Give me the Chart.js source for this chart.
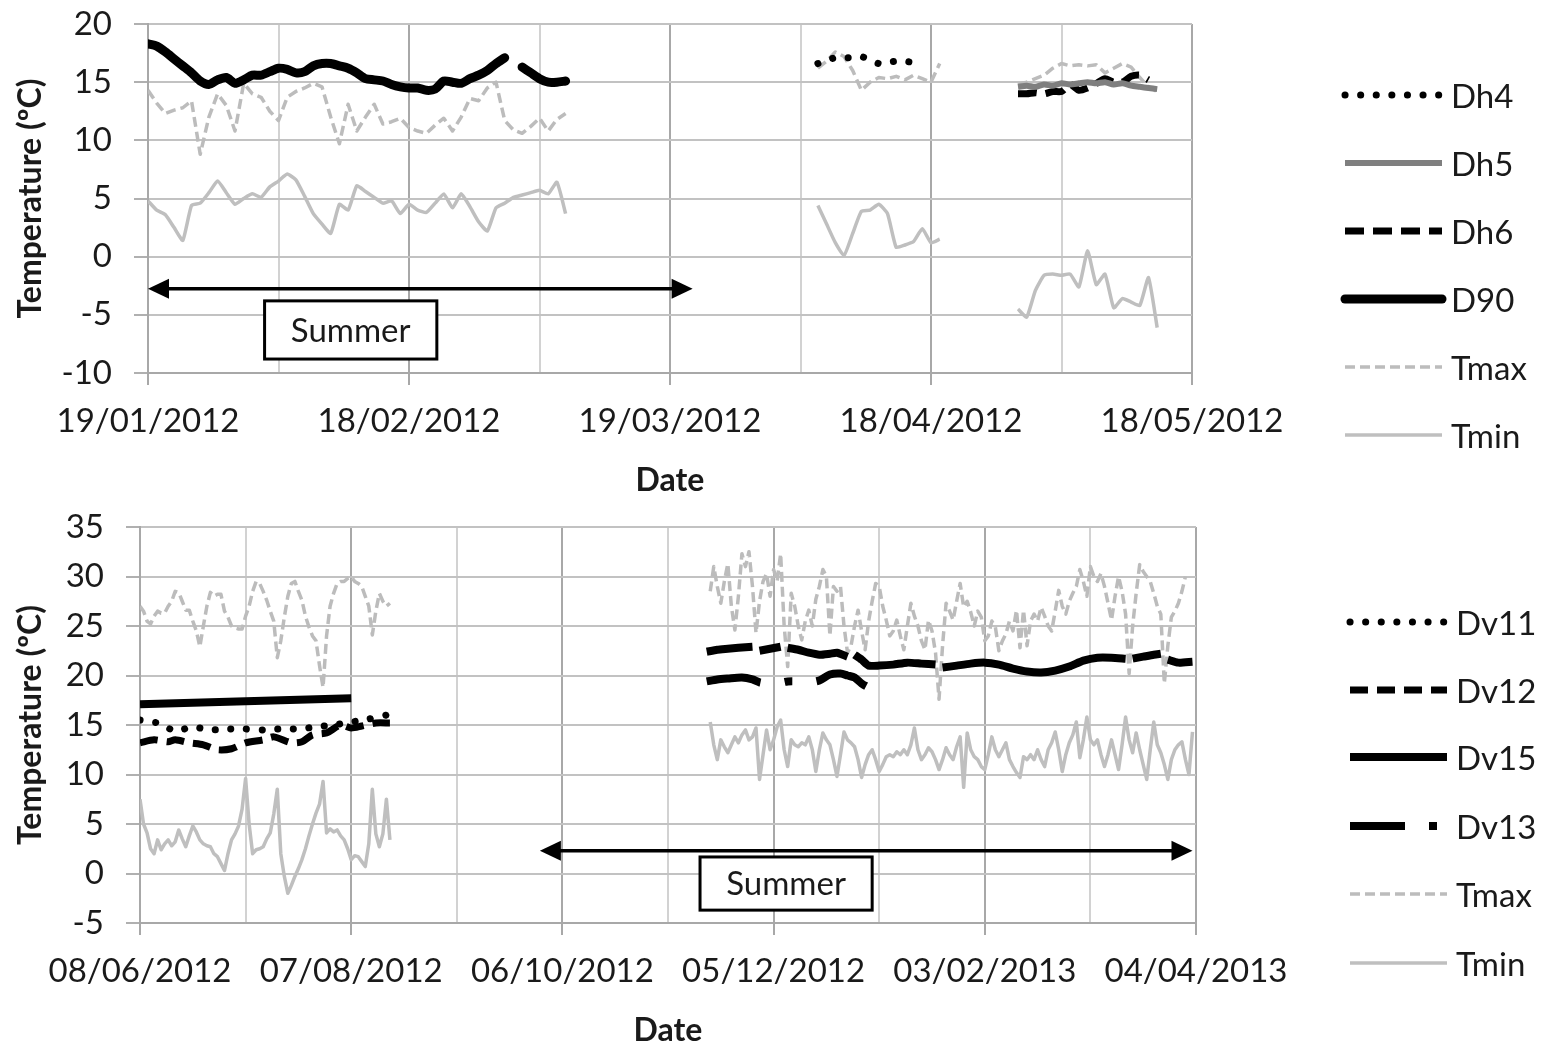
<!DOCTYPE html>
<html>
<head>
<meta charset="utf-8">
<script src="https://cdn.jsdelivr.net/npm/chart.js@4.4.0/dist/chart.umd.min.js"></script>
<style>
html, body { margin: 0; padding: 0; background: #fff; overflow: hidden; }
#wrap { position: relative; width: 1541px; height: 1047px; }
#topBox { position: absolute; left: 0; top: 0; width: 1300px; height: 500px; }
#botBox { position: absolute; left: 0; top: 490px; width: 1300px; height: 557px; }
#legend { position: absolute; left: 0; top: 0; }
</style>
</head>
<body>
<div id="wrap">
  <div id="topBox"><canvas id="topChart" width="1300" height="500"></canvas></div>
  <div id="botBox"><canvas id="botChart" width="1300" height="557"></canvas></div>
  <svg id="legend" width="1541" height="1047"></svg>
</div>
<script>
// ---- top panel, day 0 = 19/01/2012 ----
var topTicks = ['19/01/2012', '18/02/2012', '19/03/2012', '18/04/2012', '18/05/2012'];

// daily series, each segment starts at the given day
var d90A = [18.3, 18.1, 17.6, 17.0, 16.4, 15.8, 15.1, 14.8, 15.2, 15.4,
            14.9, 15.2, 15.6, 15.6, 15.9, 16.2, 16.1, 15.8, 15.9, 16.4,
            16.6, 16.6, 16.4, 16.2, 15.8, 15.3, 15.2, 15.1, 14.8, 14.6,
            14.5, 14.5, 14.3, 14.4, 15.1, 15.0, 14.9, 15.3, 15.6, 16.0,
            16.6, 17.1];                         // from day 0
var d90B = [16.3, 15.8, 15.3, 15.0, 15.0, 15.1]; // from day 43
var dh4 = [16.6, 16.9, 17.1, 17.1, 17.1, 17.2, 16.9, 16.6, 16.7, 16.8, 16.8, 16.7, 16.9]; // from day 77
var dh5 = [14.6, 14.7, 14.6, 14.8, 14.7, 14.9, 14.8, 14.9, 15.0, 14.9, 15.0, 14.8, 14.9, 14.7, 14.6, 14.5, 14.4]; // from day 100
var dh6 = [14.0, 14.0, 14.1, 14.0, 14.2, 14.2, 14.8, 14.3, 14.5, 14.9, 15.3, 15.0, 15.0, 15.5, 15.6, 15.2]; // from day 100

var tmaxTopA = [14.3, 13.2, 12.3, 12.6, 12.8, 13.4, 8.8, 12.0, 14.0, 13.0,
                10.8, 14.9, 14.0, 13.7, 12.5, 11.7, 13.7, 14.2, 14.5, 14.9,
                14.6, 12.0, 9.7, 13.1, 10.8, 12.0, 13.1, 11.4, 11.6, 11.9,
                11.1, 10.8, 10.6, 11.3, 11.9, 10.8, 12.0, 13.6, 13.4, 14.5,
                15.0, 11.7, 10.9, 10.6, 11.2, 11.9, 10.8, 11.8, 12.3];  // from day 0
var tmaxTopB = [16.2, 16.8, 17.6, 17.2, 16.0, 14.3, 15.0, 15.4, 15.3, 15.5, 15.2, 15.6, 15.3, 15.0, 16.6]; // from day 77
var tmaxTopC = [14.8, 15.0, 15.3, 15.6, 16.2, 16.6, 16.4, 16.5, 16.4, 16.5, 15.8, 16.2, 16.6, 16.3, 15.4, 14.6, 14.2]; // from day 100

var tminTopA = [4.8, 4.0, 3.6, 2.5, 1.4, 4.4, 4.6, 5.5, 6.5, 5.5,
                4.5, 5.0, 5.4, 5.1, 6.0, 6.5, 7.1, 6.6, 5.2, 3.7,
                2.8, 2.0, 4.5, 4.0, 6.1, 5.6, 5.1, 4.6, 4.8, 3.7,
                4.5, 4.0, 3.8, 4.6, 5.4, 4.2, 5.4, 4.3, 3.0, 2.2,
                4.2, 4.6, 5.1, 5.3, 5.5, 5.7, 5.4, 6.4, 3.7];   // from day 0
var tminTopB = [4.4, 2.8, 1.2, 0.1, 2.0, 3.9, 4.0, 4.5, 3.7, 0.8, 1.0, 1.3, 2.4, 1.2, 1.5]; // from day 77
var tminTopC = [-4.5, -5.2, -2.9, -1.6, -1.5, -1.6, -1.5, -2.6, 0.5, -2.4, -1.5, -4.4, -3.6, -3.9, -4.2, -1.8, -6.1]; // from day 100

// ---- bottom panel, day 0 = 08/06/2012 ----
var botTicks = ['08/06/2012', '07/08/2012', '06/10/2012', '05/12/2012', '03/02/2013', '04/04/2013'];

var dv11Days = [0, 5, 10, 15, 20, 25, 30, 35, 40, 45, 50, 55, 60, 65, 70];
var dv11Temp = [15.5, 15.2, 14.4, 14.8, 14.5, 14.6, 14.6, 14.5, 14.6, 14.6, 14.8, 15.0, 15.3, 15.6, 16.0];
var dv12Days = [0, 4, 8, 10, 14, 18, 22, 26, 30, 35, 38, 43, 46, 49, 53, 57, 60, 63, 67, 71];
var dv12Temp = [13.2, 13.5, 13.3, 13.5, 13.2, 13.0, 12.5, 12.6, 13.2, 13.5, 13.8, 13.2, 13.3, 14.0, 14.2, 15.0, 14.7, 14.9, 15.2, 15.2];
var dv15Days = [0, 60, 61,
                161, 164, 167, 170, 174, 175, 176, 179, 182, 183, 184, 187, 190, 193, 196, 198, 201, 202,
                203, 205, 207, 210, 214, 218, 222, 226, 227, 228, 232, 236, 240, 244, 248, 252, 256, 260,
                264, 268, 272, 276, 280, 281, 282, 285, 288, 290, 291, 292, 295, 299];
var dv15Temp = [17.1, 17.7, null,
                22.4, 22.6, 22.7, 22.8, 22.9, null, 22.5, 22.7, 22.9, null, 22.8, 22.6, 22.3, 22.1, 22.2, 22.3, 21.9, null,
                22.1, 21.6, 21.0, 21.0, 21.1, 21.3, 21.2, 21.1, null, 20.8, 21.0, 21.2, 21.3, 21.1, 20.7, 20.4, 20.3, 20.5,
                20.9, 21.5, 21.8, 21.8, 21.7, null, 21.7, 21.9, 22.1, 22.2, null, 21.6, 21.3, 21.4];
var dv13Days = [161, 164, 167, 171, 174, 176, 178, 181, 184, 187, 190, 193, 196, 199, 201, 203, 205, 207, 209];
var dv13Temp = [19.4, 19.6, 19.7, 19.8, 19.6, 19.3, 19.2, 19.2, 19.4, 19.4, 19.3, 19.5, 20.1, 20.2, 20.0, 19.8, 19.2, 18.8, 18.6];

var tmaxBotA = [27.0, 26.5, 25.5, 25.2, 26.0, 26.5, 26.3, 26.3, 27.0, 27.5,
                28.5, 28.4, 27.5, 26.6, 26.6, 25.5, 24.5, 22.9, 25.0, 27.0,
                28.4, 28.0, 28.2, 28.2, 26.5, 25.9, 25.0, 24.8, 24.7, 24.7,
                26.0, 27.0, 28.5, 29.5, 29.3, 28.5, 27.6, 26.5, 25.5, 21.8,
                23.5, 25.9, 28.0, 29.3, 29.5, 28.5, 27.6, 26.0, 24.9, 24.0,
                23.5, 21.0, 18.8, 24.0, 27.0, 28.3, 29.3, 29.5, 29.5, 29.8,
                30.0, 29.5, 29.3, 29.0, 28.0, 27.0, 24.1, 26.5, 28.3, 27.5,
                27.0, 27.3];  // from day 0
var tmaxBotB = [28.5, 31.0, 29.0, 27.3, 29.5, 31.3, 27.0, 24.6, 28.0, 32.3,
                31.0, 32.5, 29.0, 24.3, 27.5, 29.5, 30.3, 28.0, 30.7, 29.5,
                32.3, 25.0, 20.9, 28.3, 27.0, 25.0, 23.6, 25.5, 26.6, 25.0,
                27.7, 29.0, 30.7, 30.0, 24.0, 29.0, 28.5, 29.0, 25.0, 22.3,
                23.0, 25.0, 26.6, 24.5, 22.6, 25.5, 27.5, 29.3, 29.0, 27.0,
                25.6, 24.0, 24.5, 25.6, 24.0, 22.6, 25.0, 27.3, 26.0, 25.0,
                23.5, 22.6, 25.6, 24.5, 22.3, 17.6, 23.0, 27.3, 26.5, 25.6,
                27.5, 29.3, 26.9, 27.5, 26.4, 25.0, 26.5, 25.9, 23.5, 24.0,
                25.5, 24.9, 22.5, 23.5, 24.2, 25.5, 24.5, 26.6, 22.8, 26.6,
                23.0, 25.5, 26.2, 25.5, 26.9, 26.0, 25.0, 24.5, 26.5, 28.6,
                27.0, 26.2, 27.5, 28.3, 29.0, 30.7, 29.5, 28.0, 31.0, 30.0,
                29.5, 30.3, 29.0, 27.3, 25.6, 28.0, 30.0, 28.5, 26.2, 20.2,
                25.0, 28.3, 31.2, 30.5, 30.0, 29.5, 28.3, 27.0, 26.2, 19.2,
                23.0, 25.9, 26.5, 27.3, 28.5, 30.0];  // from day 162

var tminBotA = [7.5, 5.0, 4.1, 2.5, 2.0, 3.4, 2.4, 3.0, 3.4, 2.8,
                3.2, 4.4, 3.5, 2.7, 3.8, 4.8, 4.2, 3.4, 3.0, 2.8,
                2.7, 2.0, 1.7, 1.0, 0.3, 2.0, 3.4, 4.0, 4.8, 6.5,
                9.6, 5.0, 2.0, 2.4, 2.5, 2.7, 3.5, 4.1, 6.0, 8.5,
                2.0, -0.3, -2.0, -1.2, -0.3, 0.5, 1.4, 2.5, 3.8, 5.0,
                6.1, 7.0, 9.3, 4.1, 4.5, 4.2, 4.4, 3.8, 3.4, 2.5,
                1.4, 1.8, 1.7, 1.2, 0.7, 3.0, 8.5, 4.0, 2.7, 4.0,
                7.5, 3.4];  // from day 0
var tminBotB = [15.3, 13.0, 11.5, 13.5, 12.8, 12.2, 13.0, 13.8, 13.2, 14.0,
                14.5, 13.5, 13.8, 14.7, 9.5, 12.0, 14.5, 12.5, 13.5, 14.8,
                15.5, 12.5, 10.8, 13.5, 13.0, 12.8, 13.2, 13.0, 13.8, 12.5,
                10.3, 12.5, 14.2, 13.5, 13.0, 11.5, 9.8, 12.0, 14.3, 13.5,
                13.2, 12.8, 11.5, 9.7, 11.0, 12.0, 12.5, 11.5, 10.3, 11.0,
                11.8, 12.0, 11.8, 12.3, 12.0, 12.5, 12.0, 13.0, 14.7, 12.5,
                11.5, 12.0, 12.7, 12.3, 11.5, 10.5, 11.5, 12.7, 12.0, 11.5,
                12.8, 13.8, 8.7, 14.2, 12.5, 11.8, 11.5, 10.8, 10.5, 12.0,
                13.8, 12.5, 11.8, 12.5, 13.2, 11.5, 10.8, 10.2, 9.7, 11.8,
                11.5, 12.0, 11.5, 12.5, 11.5, 10.8, 12.5, 13.2, 14.3, 12.5,
                10.3, 12.0, 13.2, 14.0, 15.3, 11.7, 13.5, 15.8, 13.5, 13.0,
                13.5, 12.0, 10.8, 12.0, 13.5, 12.0, 10.5, 13.0, 15.8, 13.5,
                12.2, 14.2, 12.5, 11.0, 9.5, 12.5, 15.3, 13.0, 12.2, 11.0,
                9.5, 11.5, 12.5, 13.0, 13.3, 11.5, 10.0, 14.3];  // from day 162

// helpers
function daily(start, values) {
    return values.map(function (v, i) { return { x: start + i, y: v }; });
}
function pairs(days, values) {
    return days.map(function (d, i) { return { x: d, y: values[i] }; });
}
// join segments with a null point so the line breaks between them
function joinSegs() {
    var out = [];
    for (var i = 0; i < arguments.length; i++) {
        if (i > 0) out.push({ x: out[out.length - 1].x + 0.5, y: null });
        out = out.concat(arguments[i]);
    }
    return out;
}

var TMAX_COLOR = '#bcbcbc';
var TMIN_COLOR = '#bfbfbf';

function line(label, data, color, width, dash, extra) {
    var ds = {
        label: label, data: data, borderColor: color, backgroundColor: color,
        borderWidth: width, borderDash: dash || [], pointRadius: 0,
        fill: false, spanGaps: false, tension: 0.25, borderJoinStyle: 'round'
    };
    for (var k in extra) ds[k] = extra[k];
    return ds;
}
var dotted = { borderCapStyle: 'round', tension: 0.2 };

// Summer arrow + box
var summerPlugin = {
    id: 'summer',
    afterDatasetsDraw: function (chart, args, o) {
        var xs = chart.scales.x, ys = chart.scales.y, ctx = chart.ctx;
        var x1 = xs.getPixelForValue(o.from), x2 = xs.getPixelForValue(o.to);
        var y = ys.getPixelForValue(o.at);
        var hl = 21, hw = 10;
        ctx.save();
        ctx.strokeStyle = '#000';
        ctx.fillStyle = '#000';
        ctx.lineWidth = 3.5;
        ctx.beginPath(); ctx.moveTo(x1 + hl - 2, y); ctx.lineTo(x2 - hl + 2, y); ctx.stroke();
        ctx.beginPath(); ctx.moveTo(x1, y); ctx.lineTo(x1 + hl, y - hw); ctx.lineTo(x1 + hl, y + hw); ctx.closePath(); ctx.fill();
        ctx.beginPath(); ctx.moveTo(x2, y); ctx.lineTo(x2 - hl, y - hw); ctx.lineTo(x2 - hl, y + hw); ctx.closePath(); ctx.fill();
        var bx1 = xs.getPixelForValue(o.box[0]), bx2 = xs.getPixelForValue(o.box[1]);
        var by1 = ys.getPixelForValue(o.box[2]), by2 = ys.getPixelForValue(o.box[3]);
        ctx.fillStyle = '#fff';
        ctx.fillRect(bx1, by1, bx2 - bx1, by2 - by1);
        ctx.lineWidth = 3;
        ctx.strokeRect(bx1, by1, bx2 - bx1, by2 - by1);
        ctx.fillStyle = '#1a1a1a';
        ctx.font = '33px Lato';
        ctx.textAlign = 'center';
        ctx.textBaseline = 'middle';
        ctx.fillText('Summer', (bx1 + bx2) / 2, (by1 + by2) / 2 + 1);
        ctx.restore();
    }
};

Chart.defaults.font.family = 'Lato, sans-serif';
Chart.defaults.font.size = 33;
Chart.defaults.color = '#1a1a1a';

function makeOptions(p) {
    return {
        responsive: false,
        animation: false,
        layout: { padding: { left: 0, top: p.top, right: p.right, bottom: 0 } },
        plugins: { legend: { display: false }, tooltip: { enabled: false }, summer: p.summer },
        scales: {
            x: {
                type: 'linear', min: 0, max: p.xMax,
                // fixed height; the side padding is already reserved by layout.padding
                afterFit: function (s) { s.height = p.xHeight; s.paddingLeft = 0; s.paddingRight = 0; },
                ticks: {
                    stepSize: p.step, autoSkip: false, maxRotation: 0, minRotation: 0, padding: 17,
                    callback: function (v) { return v % p.major === 0 ? p.labels[v / p.major] : ''; }
                },
                grid: {
                    lineWidth: 2, tickLength: 12,
                    color: function (c) { return c.tick && c.tick.value % p.major === 0 ? '#a8a8a8' : '#d2d2d2'; },
                    tickColor: function (c) { return c.tick && c.tick.value % p.major === 0 ? '#a8a8a8' : 'rgba(0,0,0,0)'; }
                },
                border: { color: '#a8a8a8', width: 2 },
                title: { display: true, text: 'Date', font: { size: 32, weight: 'bold' }, padding: { top: 0, bottom: p.titleBottom } }
            },
            y: {
                min: p.yMin, max: p.yMax,
                // fixed axis width; drop the label overhang so the plot top stays where the padding puts it
                afterFit: function (s) { s.width = p.yWidth; s.paddingTop = 0; s.paddingBottom = 0; },
                ticks: { stepSize: 5, padding: 22 },
                grid: { lineWidth: 2, tickLength: 14, color: '#c2c2c2', tickColor: '#b0b0b0' },
                border: { color: '#a8a8a8', width: 2 },
                title: { display: true, text: 'Temperature (ºC)', font: { size: 32, weight: 'bold' }, padding: { top: 11, bottom: 0 } }
            }
        }
    };
}

var topChart = new Chart(document.getElementById('topChart'), {
    type: 'line',
    data: {
        datasets: [
            line('Dh4', daily(77, dh4), '#000', 7, [0.1, 15.5], dotted),
            line('Dh5', daily(100, dh5), '#7f7f7f', 6, []),
            line('Dh6', daily(100, dh6), '#000', 7, [19, 9]),
            line('D90', joinSegs(daily(0, d90A), daily(43, d90B)), '#000', 9, [], { borderCapStyle: 'round' }),
            line('Tmax', joinSegs(daily(0, tmaxTopA), daily(77, tmaxTopB), daily(100, tmaxTopC)), TMAX_COLOR, 3.5, [10, 5], { tension: 0 }),
            line('Tmin', joinSegs(daily(0, tminTopA), daily(77, tminTopB), daily(100, tminTopC)), TMIN_COLOR, 3.5, [], { tension: 0.15 })
        ]
    },
    options: makeOptions({
        top: 24, right: 108, xMax: 120, step: 15, major: 30, labels: topTicks,
        xHeight: 127, yWidth: 148, yMin: -10, yMax: 20, titleBottom: 0,
        summer: { from: 0, to: 62.6, at: -2.75, box: [13.4, 33.2, -3.8, -8.8] }
    }),
    plugins: [summerPlugin]
});

var botChart = new Chart(document.getElementById('botChart'), {
    type: 'line',
    data: {
        datasets: [
            line('Dv11', pairs(dv11Days, dv11Temp), '#000', 7, [0.1, 15.5], dotted),
            line('Dv12', pairs(dv12Days, dv12Temp), '#000', 7, [18, 9]),
            line('Dv15', pairs(dv15Days, dv15Temp), '#000', 8, [], { tension: 0.2 }),
            line('Dv13', pairs(dv13Days, dv13Temp), '#000', 8, [55, 24, 8, 24]),
            line('Tmax', joinSegs(daily(0, tmaxBotA), daily(162, tmaxBotB)), TMAX_COLOR, 3.5, [10, 5], { tension: 0 }),
            line('Tmin', joinSegs(daily(0, tminBotA), daily(162, tminBotB)), TMIN_COLOR, 3.5, [], { tension: 0 })
        ]
    },
    options: makeOptions({
        top: 37, right: 104, xMax: 300, step: 30, major: 60, labels: botTicks,
        xHeight: 124, yWidth: 140, yMin: -5, yMax: 35, titleBottom: -3,
        summer: { from: 113.6, to: 299, at: 2.3, box: [159.1, 208, 1.67, -3.7] }
    }),
    plugins: [summerPlugin]
});

// legends drawn beside each panel from the dataset styles
function drawLegend(chart, x1, x2, tx, rows) {
    var svg = document.getElementById('legend');
    var ns = 'http://www.w3.org/2000/svg';
    chart.data.datasets.forEach(function (ds, i) {
        var y = rows[i];
        var l = document.createElementNS(ns, 'line');
        l.setAttribute('x1', x1); l.setAttribute('x2', x2);
        l.setAttribute('y1', y); l.setAttribute('y2', y);
        l.setAttribute('stroke', ds.borderColor);
        l.setAttribute('stroke-width', ds.borderWidth);
        if (ds.borderDash.length) l.setAttribute('stroke-dasharray', ds.borderDash.join(' '));
        l.setAttribute('stroke-linecap', ds.borderCapStyle === 'round' ? 'round' : 'butt');
        svg.appendChild(l);
        var t = document.createElementNS(ns, 'text');
        t.setAttribute('x', tx); t.setAttribute('y', y);
        t.setAttribute('dominant-baseline', 'central');
        t.setAttribute('font-family', 'Lato');
        t.setAttribute('font-size', '33');
        t.setAttribute('fill', '#1a1a1a');
        t.textContent = ds.label;
        svg.appendChild(t);
    });
}
drawLegend(topChart, 1345, 1442, 1451, [95, 163, 231, 299, 367, 435]);
drawLegend(botChart, 1350, 1447, 1456, [622, 690, 757, 826, 894, 963]);
</script>
</body>
</html>
